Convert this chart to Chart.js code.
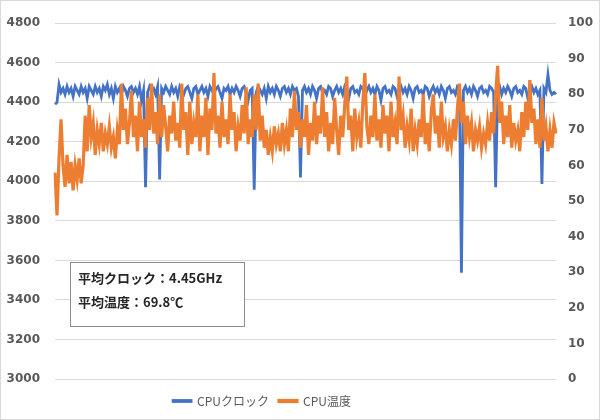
<!DOCTYPE html>
<html>
<head>
<meta charset="utf-8">
<script src="https://cdn.jsdelivr.net/npm/chart.js@4/dist/chart.umd.min.js"></script>
<style>
  body { margin: 0; background: #fff; }
  #wrap { position: absolute; left: 0; top: 0; width: 600px; height: 420px; box-sizing: border-box; border: 1px solid #d9d9d9; }
  canvas { display: block; }
</style>
</head>
<body>
<div id="wrap"><canvas id="chart" width="598" height="418"></canvas></div>
<script>
// CPUクロック (MHz, 左軸)
const cpuClock = [
  4390, 4400, 4490, 4450, 4470, 4440, 4480, 4450, 4470, 4430,
  4480, 4460, 4440, 4480, 4450, 4470, 4420, 4480, 4460, 4440,
  4480, 4450, 4470, 4430, 4480, 4460, 4490, 4440, 4470, 4420,
  4480, 4450, 4470, 4440, 4480, 4460, 4430, 4470, 4480, 4450,
  4470, 4440, 4480, 4410, 4460, 3970, 4450, 4480, 4460, 4470,
  4440, 4480, 4010, 4470, 4450, 4480, 4460, 4440, 4480, 4450,
  4470, 4430, 4480, 4460, 4440, 4470, 4480, 4450, 4420, 4470,
  4480, 4440, 4460, 4480, 4450, 4470, 4430, 4480, 4460, 4440,
  4470, 4480, 4450, 4420, 4470, 4460, 4480, 4440, 4470, 4450,
  4480, 4460, 4430, 4470, 4480, 4450, 4410, 4460, 4470, 3957,
  4450, 4480, 4460, 4440, 4470, 4420, 4480, 4450, 4470, 4440,
  4480, 4460, 4430, 4470, 4480, 4450, 4470, 4440, 4480, 4460,
  4470, 4430, 4020, 4460, 4480, 4450, 4470, 4440, 4480, 4460,
  4420, 4470, 4480, 4450, 4460, 4440, 4480, 4470, 4430, 4460,
  4480, 4450, 4470, 4440, 4480, 4460, 4420, 4470, 4480, 4450,
  4460, 4440, 4480, 4470, 4430, 4460, 4480, 4450, 4470, 4440,
  4480, 4460, 4410, 4470, 4480, 4450, 4460, 4440, 4480, 4470,
  4430, 4460, 4480, 4450, 4470, 4440, 4480, 4460, 4420, 4470,
  4480, 4450, 4460, 4440, 4480, 4470, 4430, 4460, 4480, 4450,
  4470, 4440, 4480, 4460, 4420, 4470, 4480, 4450, 4460, 4440,
  4480, 4470, 3537, 4460, 4480, 4450, 4470, 4440, 4480, 4460,
  4430, 4470, 4480, 4450, 4460, 4440, 4480, 4470, 4450, 3970,
  4460, 4480, 4440, 4470, 4450, 4480, 4460, 4430, 4470, 4480,
  4450, 4460, 4440, 4480, 4470, 4420, 4460, 4480, 4450, 4470,
  4440, 4460, 3987, 4470, 4450, 4540, 4460, 4440, 4450, 4440
];

// CPU温度 (℃, 右軸)
const cpuTemp = [
  58, 46, 62, 73, 60, 54, 63, 55, 61, 53,
  60, 56, 62, 55, 60, 74, 64, 77, 68, 72,
  63, 70, 66, 72, 64, 69, 66, 71, 65, 68,
  62, 70, 66, 83, 70, 76, 66, 72, 81, 68,
  74, 64, 78, 68, 73, 65, 79, 70, 83, 69,
  75, 66, 80, 68, 77, 71, 64, 74, 69, 78,
  67, 72, 65, 83, 70, 75, 63, 78, 66, 72,
  68, 80, 64, 74, 68, 79, 63, 76, 70, 86,
  69, 74, 65, 78, 68, 73, 66, 80, 70, 75,
  64, 71, 67, 77, 69, 82, 66, 73, 68, 80,
  70, 83, 67, 74, 65, 70, 63, 68, 64, 71,
  66, 69, 64, 72, 66, 70, 64, 76, 68, 81,
  70, 75, 65, 73, 68, 77, 63, 72, 67, 78,
  66, 74, 69, 82, 68, 75, 64, 72, 66, 79,
  70, 63, 74, 68, 77, 85, 70, 74, 64, 76,
  68, 72, 65, 78, 86, 71, 66, 74, 68, 80,
  67, 73, 65, 77, 69, 74, 64, 78, 68, 72,
  66, 85, 70, 74, 65, 71, 67, 76, 64, 70,
  66, 73, 68, 80, 66, 72, 64, 75, 80, 69,
  74, 65, 78, 68, 71, 64, 70, 66, 73, 67,
  76, 83, 72, 78, 66, 74, 68, 72, 64, 70,
  67, 71, 65, 69, 66, 72, 67, 75, 69, 80,
  88, 72, 78, 66, 74, 68, 77, 65, 72, 67,
  70, 64, 75, 68, 78, 70, 84, 72, 76, 66,
  73, 65, 79, 67, 71, 64, 70, 65, 72, 69
];

const samples = cpuTemp.map((_, i) => i + 1);
const summaryLines = ['平均クロック：4.45GHz', '平均温度：69.8℃'];

const tickFont = { family: 'DejaVu Sans', size: 12, weight: 'bold' };
const textColor = '#595959';

// 平均値のテキストボックス
const summaryBox = {
  id: 'summaryBox',
  afterDraw(chart) {
    const ctx = chart.ctx;
    ctx.save();
    ctx.fillStyle = '#ffffff';
    ctx.fillRect(69.5, 261.5, 174, 64);
    ctx.strokeStyle = '#8c8c8c';
    ctx.lineWidth = 1;
    ctx.strokeRect(69.5, 261.5, 174, 64);
    ctx.fillStyle = '#262626';
    ctx.font = "bold 13px 'Noto Sans CJK JP', sans-serif";
    ctx.textBaseline = 'middle';
    ctx.fillText(summaryLines[0], 77, 277);
    ctx.fillText(summaryLines[1], 77, 301);
    ctx.restore();
  }
};

// 凡例を元の図の位置へずらす
const legendShift = {
  id: 'legendShift',
  afterLayout(chart) {
    const lg = chart.legend;
    lg.left -= 38; lg.right -= 38;
    lg.top += 6; lg.bottom += 6;
  }
};

new Chart(document.getElementById('chart'), {
  type: 'line',
  data: {
    labels: samples,
    datasets: [
      {
        label: 'CPUクロック',
        data: cpuClock,
        yAxisID: 'y',
        borderColor: '#4472C4',
        backgroundColor: '#4472C4',
        borderWidth: 2.8,
        pointRadius: 0,
        tension: 0,
        order: 2
      },
      {
        label: 'CPU温度',
        data: cpuTemp,
        yAxisID: 'y1',
        borderColor: '#ED7D31',
        backgroundColor: '#ED7D31',
        borderWidth: 3.2,
        pointRadius: 0,
        tension: 0,
        order: 1
      }
    ]
  },
  options: {
    responsive: false,
    animation: false,
    layout: { padding: { top: 13, bottom: 8 } },
    plugins: {
      legend: {
        position: 'bottom',
        labels: {
          color: textColor,
          font: { family: "'Noto Sans CJK JP', sans-serif", size: 12 },
          boxWidth: 18,
          boxHeight: 1,
          padding: 10,
          sort: (a, b) => a.datasetIndex - b.datasetIndex
        }
      },
      tooltip: { enabled: false }
    },
    scales: {
      x: {
        display: false,
        offset: false
      },
      y: {
        position: 'left',
        min: 3000,
        max: 4800,
        border: { display: false },
        grid: { color: '#d9d9d9', drawTicks: false },
        ticks: { stepSize: 200, color: textColor, font: tickFont, padding: 15, callback: (v) => String(v) },
        afterFit: (s) => { s.width = 54; }
      },
      y1: {
        position: 'right',
        min: 0,
        max: 100,
        border: { display: false },
        grid: { display: false, drawTicks: false },
        ticks: { stepSize: 10, color: textColor, font: tickFont, padding: 12, callback: (v) => String(v) },
        afterFit: (s) => { s.width = 43; }
      }
    }
  },
  plugins: [summaryBox, legendShift]
});
</script>
</body>
</html>
